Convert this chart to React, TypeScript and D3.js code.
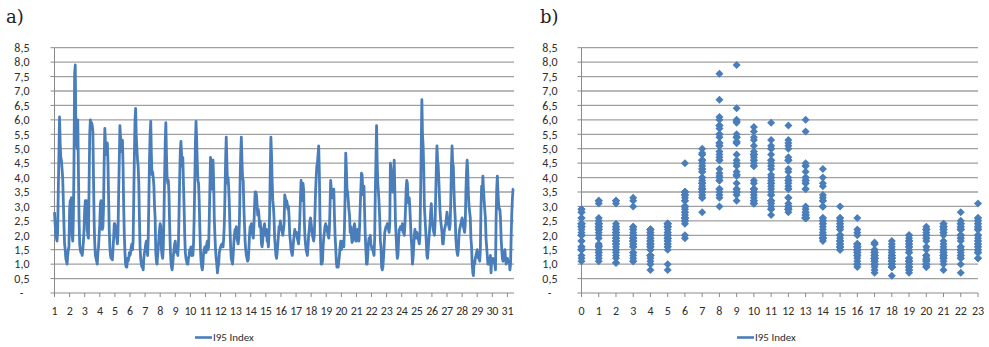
import React, { useEffect, useRef } from 'react'
import * as d3 from 'd3'

// I95 index, hourly values, one row per day (day 31 is partial)
const hourlyByDay: number[][] = [
  [2.8, 2.4, 2.0, 1.9, 1.8, 2.1, 3.5, 4.8, 6.1, 5.2, 4.7, 4.6, 4.3, 4.0, 3.2, 2.4, 1.7, 1.5, 1.2, 1.1, 1.0, 1.3, 1.5, 1.6],
  [2.9, 3.2, 3.2, 3.3, 2.0, 1.8, 2.6, 4.5, 7.6, 7.9, 5.6, 5.3, 5.0, 6.0, 4.3, 2.6, 1.7, 1.5, 1.4, 1.4, 1.3, 1.5, 1.8, 2.2],
  [2.9, 3.2, 3.1, 3.2, 2.2, 2.0, 1.9, 3.8, 5.5, 6.0, 5.75, 5.9, 5.8, 5.6, 4.0, 2.5, 1.7, 1.3, 1.2, 1.1, 1.0, 1.4, 1.6, 2.0],
  [2.4, 3.1, 3.2, 3.0, 2.2, 2.3, 3.0, 4.6, 5.7, 5.2, 4.8, 5.0, 5.2, 4.5, 3.3, 2.2, 1.6, 1.3, 1.2, 1.2, 1.15, 1.5, 1.9, 2.4],
  [2.4, 2.3, 2.0, 1.9, 1.7, 2.1, 3.5, 4.6, 5.8, 5.4, 4.9, 5.1, 5.3, 4.4, 3.0, 2.0, 1.4, 1.0, 0.9, 0.9, 1.2, 1.1, 1.2, 1.4],
  [1.3, 1.4, 1.6, 1.7, 1.5, 1.8, 3.3, 4.8, 6.0, 6.4, 5.4, 5.0, 4.6, 4.4, 3.8, 2.6, 1.6, 1.2, 1.0, 0.9, 0.9, 0.8, 1.2, 1.4],
  [1.5, 1.7, 1.8, 1.6, 1.3, 1.9, 3.2, 4.6, 5.5, 5.95, 4.8, 4.1, 4.2, 4.0, 3.7, 3.0, 2.6, 1.4, 1.1, 1.0, 1.3, 1.6, 1.9, 2.2],
  [2.4, 2.3, 1.5, 1.3, 1.2, 1.6, 2.6, 4.0, 5.2, 5.9, 4.8, 4.0, 3.8, 3.9, 3.4, 2.4, 1.6, 1.1, 0.9, 0.8, 1.0, 1.3, 1.5, 1.7],
  [1.8, 1.5, 1.4, 1.6, 1.3, 1.7, 2.8, 4.0, 4.9, 5.25, 4.8, 4.4, 4.7, 3.8, 3.0, 2.0, 1.4, 1.2, 1.1, 1.0, 1.0, 1.2, 1.3, 1.5],
  [1.5, 1.6, 1.3, 1.4, 1.3, 1.7, 2.6, 3.8, 5.2, 5.95, 5.3, 4.5, 3.9, 3.8, 3.2, 2.3, 1.5, 1.1, 0.9, 0.8, 1.0, 1.4, 1.5, 1.6],
  [1.5, 1.4, 1.7, 1.8, 1.5, 1.6, 2.5, 3.6, 4.7, 4.1, 3.6, 4.6, 4.6, 3.9, 2.6, 2.0, 1.5, 1.2, 1.0, 0.7, 0.9, 1.0, 1.4, 1.5],
  [1.6, 1.65, 1.7, 1.6, 1.6, 1.9, 2.4, 3.4, 4.6, 5.4, 4.6, 3.8, 4.0, 3.6, 3.0, 2.2, 1.6, 1.2, 1.1, 1.0, 1.3, 1.7, 2.0, 2.2],
  [2.0, 2.3, 1.9, 1.8, 1.7, 1.9, 2.5, 3.8, 4.8, 5.4, 4.6, 4.0, 3.9, 3.0, 2.4, 1.8, 1.5, 1.3, 1.2, 1.1, 1.15, 1.5, 2.0, 2.3],
  [2.3, 2.4, 2.2, 2.0, 1.9, 2.3, 3.0, 3.5, 3.5, 3.4, 3.1, 2.7, 2.9, 2.7, 2.3, 2.5, 2.2, 1.7, 1.6, 1.8, 2.2, 2.3, 2.4, 2.0],
  [2.0, 2.2, 1.8, 1.9, 1.6, 2.0, 2.8, 4.2, 5.4, 4.8, 3.9, 3.2, 3.0, 2.6, 1.9, 1.6, 1.3, 1.2, 1.4, 1.7, 2.0, 2.3, 2.2, 2.5],
  [2.3, 2.2, 2.1, 2.0, 2.2, 2.4, 3.4, 3.3, 3.0, 3.2, 3.1, 2.9, 3.0, 2.6, 2.0, 1.8, 1.5, 1.4, 1.3, 1.5, 1.8, 2.0, 2.2, 2.0],
  [2.0, 2.1, 1.9, 1.8, 1.7, 2.0, 2.6, 3.3, 3.9, 3.5, 3.2, 3.8, 3.6, 2.6, 2.0, 1.7, 1.5, 1.4, 1.3, 1.6, 2.0, 2.2, 2.5, 2.6],
  [2.4, 2.2, 2.0, 1.9, 1.8, 2.0, 2.7, 3.5, 4.0, 4.4, 4.5, 4.8, 5.1, 4.2, 2.6, 1.7, 1.0, 1.0, 1.1, 1.6, 1.9, 2.1, 2.3, 2.4],
  [2.3, 2.3, 2.1, 2.0, 1.9, 2.2, 3.0, 3.9, 3.6, 3.5, 3.3, 3.4, 3.6, 2.7, 2.0, 1.6, 1.1, 0.9, 0.9, 0.9, 1.1, 1.3, 1.6, 1.8],
  [1.5, 1.6, 1.8, 1.7, 1.6, 2.3, 3.4, 4.85, 4.3, 3.6, 3.5, 3.2, 2.9, 2.7, 2.1, 2.3, 2.0, 1.75, 1.8, 1.9, 2.3, 2.4, 2.2, 1.8],
  [1.8, 1.9, 2.2, 2.0, 1.8, 2.3, 3.0, 3.6, 4.15, 4.1, 3.6, 3.4, 3.7, 2.8, 2.0, 1.5, 1.0, 1.0, 1.3, 1.7, 1.9, 1.8, 2.0, 1.7],
  [1.6, 1.5, 1.5, 1.4, 1.3, 1.9, 3.5, 4.6, 5.8, 4.5, 3.8, 3.5, 3.1, 2.6, 1.8, 1.6, 0.9, 0.8, 0.9, 1.2, 1.6, 2.1, 2.2, 2.3],
  [2.3, 2.4, 2.3, 2.2, 2.1, 2.4, 4.5, 4.3, 3.6, 3.5, 3.5, 3.7, 4.6, 3.6, 2.5, 2.0, 1.5, 1.2, 1.3, 1.8, 2.2, 2.2, 2.3, 2.2],
  [2.2, 2.4, 2.1, 2.3, 2.0, 2.3, 2.9, 3.6, 3.9, 3.8, 3.2, 3.1, 3.3, 2.9, 2.4, 1.9, 1.6, 1.0, 1.2, 1.6, 2.0, 2.2, 2.0, 1.9],
  [2.1, 2.0, 1.9, 1.8, 1.7, 2.0, 3.5, 5.0, 6.7, 5.5, 5.1, 4.3, 3.0, 2.6, 2.2, 1.8, 1.3, 1.2, 1.5, 1.8, 2.1, 2.4, 2.8, 3.1],
  [2.6, 2.4, 2.2, 2.1, 2.0, 2.4, 3.4, 4.3, 5.1, 4.6, 4.4, 3.9, 3.3, 2.8, 2.5, 2.3, 2.1, 1.7, 1.7, 2.0, 2.2, 2.3, 2.4, 2.6],
  [2.8, 2.6, 2.4, 2.3, 2.2, 2.4, 3.2, 4.4, 5.1, 4.5, 4.4, 3.6, 3.0, 2.6, 1.9, 1.6, 1.4, 1.3, 1.5, 2.0, 2.2, 2.3, 2.4, 2.5],
  [2.6, 2.5, 2.3, 2.2, 2.1, 2.4, 3.5, 4.2, 4.6, 4.2, 3.4, 3.0, 2.8, 2.6, 1.9, 1.6, 1.0, 0.7, 0.6, 1.1, 1.0, 1.2, 1.3, 1.4],
  [1.5, 1.3, 1.2, 1.2, 1.1, 1.5, 3.0, 3.7, 3.4, 4.05, 3.6, 3.2, 2.9, 2.6, 1.9, 1.6, 1.3, 1.0, 1.0, 1.2, 1.1, 1.3, 0.7, 1.2],
  [1.1, 1.2, 1.05, 1.1, 1.0, 0.8, 2.5, 3.6, 4.05, 3.5, 3.1, 2.9, 2.9, 2.6, 1.9, 1.5, 1.2, 1.1, 1.2, 1.4, 1.5, 1.2, 1.0, 1.2],
  [1.2, 1.1, 1.05, 1.1, 0.8, 1.0, 2.0, 2.8, 3.3, 3.6, 3.6],
]

const dayLabels = ['1', '2', '3', '4', '5', '6', '7', '8', '9', '10', '11', '12', '13', '14', '15', '16',
  '17', '18', '19', '20', '21', '22', '23', '24', '25', '26', '27', '28', '29', '30', '31']
const hourTicks = [0, 1, 2, 3, 4, 5, 6, 7, 8, 9, 10, 11, 12, 13, 14, 15, 16, 17, 18, 19, 20, 21, 22, 23]
const yTicks = [0, 0.5, 1, 1.5, 2, 2.5, 3, 3.5, 4, 4.5, 5, 5.5, 6, 6.5, 7, 7.5, 8, 8.5]
const seriesName = 'I95 Index'

const BLUE = '#4a7ebb'
const GRID = '#a0a0a0'
const AXIS = '#8a8a8a'
const TEXT = '#2e2e2e'
const FONT = 'Carlito, Calibri, Lato, sans-serif'

const fmt = (v: number) => (v === 0 ? '-' : v.toFixed(1).replace('.', ','))

const App = () => {
  const svgRef = useRef<SVGSVGElement>(null)

  useEffect(() => {
    const svg = d3.select(svgRef.current)
    svg.selectAll('*').remove()

    const series = hourlyByDay.flat()
    const points = hourlyByDay.flatMap((day) => day.map((v, h) => ({ h, v })))

    // shared y scale (both panels sit on the same rows)
    const y = d3.scaleLinear().domain([0, 8.5]).range([293, 47.7])

    const drawYAxis = (axisX: number, right: number, labelX: number) => {
      const g = svg.append('g')
      g.selectAll('line.grid')
        .data(yTicks.filter((t) => t > 0))
        .enter()
        .append('line')
        .attr('x1', axisX)
        .attr('x2', right)
        .attr('y1', (d) => y(d))
        .attr('y2', (d) => y(d))
        .attr('stroke', GRID)
        .attr('stroke-width', 1.3)
      g.selectAll('line.tick')
        .data(yTicks)
        .enter()
        .append('line')
        .attr('x1', axisX - 4)
        .attr('x2', axisX)
        .attr('y1', (d) => y(d))
        .attr('y2', (d) => y(d))
        .attr('stroke', AXIS)
      g.selectAll('text')
        .data(yTicks)
        .enter()
        .append('text')
        .attr('x', (d) => (d === 0 ? labelX - 8 : labelX))
        .attr('y', (d) => y(d) + 4.3)
        .attr('text-anchor', (d) => (d === 0 ? 'middle' : 'end'))
        .attr('fill', TEXT)
        .style('font-family', FONT)
        .style('font-size', '12px')
        .text((d) => fmt(d))
      g.append('line')
        .attr('x1', axisX)
        .attr('x2', axisX)
        .attr('y1', y(8.5))
        .attr('y2', y(0))
        .attr('stroke', AXIS)
      g.append('line')
        .attr('x1', axisX)
        .attr('x2', right)
        .attr('y1', y(0))
        .attr('y2', y(0))
        .attr('stroke', AXIS)
    }

    const drawLegend = (x0: number) => {
      const g = svg.append('g')
      g.append('line')
        .attr('x1', x0)
        .attr('x2', x0 + 17)
        .attr('y1', 337.5)
        .attr('y2', 337.5)
        .attr('stroke', BLUE)
        .attr('stroke-width', 2.6)
      g.append('text')
        .attr('x', x0 + 18)
        .attr('y', 341)
        .attr('fill', TEXT)
        .style('font-family', FONT)
        .style('font-size', '11px')
        .text(seriesName)
    }

    const title = (x: number, t: string) =>
      svg
        .append('text')
        .attr('x', x)
        .attr('y', 23)
        .attr('fill', '#222')
        .style('font-family', 'DejaVu Serif, serif')
        .style('font-size', '18px')
        .text(t)

    // ---- a) hourly line over the month
    const xL = d3.scaleLinear().domain([0, 730]).range([54.5, 513.7])
    drawYAxis(54.5, 514, 29.5)

    const dayG = svg.append('g')
    dayG
      .selectAll('line')
      .data(dayLabels)
      .enter()
      .append('line')
      .attr('x1', (d, i) => xL(i * 24))
      .attr('x2', (d, i) => xL(i * 24))
      .attr('y1', 293)
      .attr('y2', 297)
      .attr('stroke', AXIS)
    dayG
      .selectAll('text')
      .data(dayLabels)
      .enter()
      .append('text')
      .attr('x', (d, i) => xL(i * 24))
      .attr('y', 315)
      .attr('text-anchor', 'middle')
      .attr('fill', TEXT)
      .style('font-family', FONT)
      .style('font-size', '12px')
      .style('letter-spacing', '-0.3px')
      .text((d) => d)

    const line = d3
      .line<number>()
      .x((d, i) => xL(i))
      .y((d) => y(d))
    svg
      .append('path')
      .datum(series)
      .attr('d', line)
      .attr('fill', 'none')
      .attr('stroke', BLUE)
      .attr('stroke-width', 2.8)
      .attr('stroke-linejoin', 'round')

    drawLegend(195)
    title(6, 'a)')

    // ---- b) same values grouped by hour of day
    const xR = d3.scaleLinear().domain([0, 23]).range([581.5, 978])
    drawYAxis(581.5, 978, 557.5)

    const hourG = svg.append('g')
    hourG
      .selectAll('line')
      .data(hourTicks)
      .enter()
      .append('line')
      .attr('x1', (d) => xR(d))
      .attr('x2', (d) => xR(d))
      .attr('y1', 293)
      .attr('y2', 297)
      .attr('stroke', AXIS)
    hourG
      .selectAll('text')
      .data(hourTicks)
      .enter()
      .append('text')
      .attr('x', (d) => xR(d))
      .attr('y', 315)
      .attr('text-anchor', 'middle')
      .attr('fill', TEXT)
      .style('font-family', FONT)
      .style('font-size', '12px')
      .text((d) => String(d))

    const diamond = d3.symbol(d3.symbolSquare, 32)
    svg
      .append('g')
      .selectAll('path')
      .data(points)
      .enter()
      .append('path')
      .attr('d', diamond)
      .attr('transform', (d) => `translate(${xR(d.h)},${y(d.v)}) rotate(45)`)
      .attr('fill', BLUE)

    drawLegend(737)
    title(540, 'b)')
  }, [])

  return (
    <svg
      ref={svgRef}
      width={989}
      height={347}
      style={{ position: 'absolute', left: 0, top: 0, background: '#fff' }}
    />
  )
}

export default App
